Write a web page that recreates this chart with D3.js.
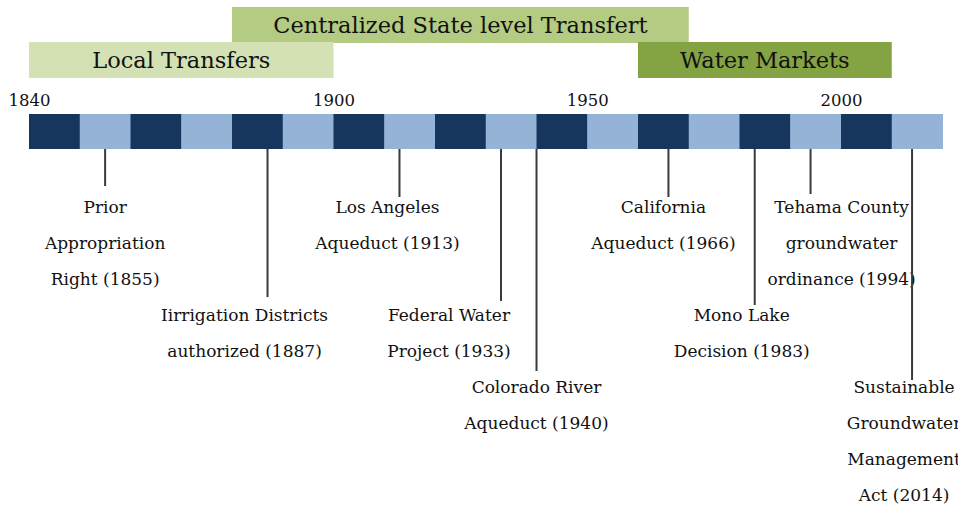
<!DOCTYPE html>
<html><head><meta charset="utf-8">
<script src="https://cdn.jsdelivr.net/npm/d3@7"></script>
<style>html,body{margin:0;padding:0;background:#fff;}svg{display:block;}</style>
</head><body>
<script>
// Data
const decades = [1840,1850,1860,1870,1880,1890,1900,1910,1920,1930,1940,1950,1960,1970,1980,1990,2000,2010];
const tickYears = [1840, 1900, 1950, 2000];
const eras = ["Centralized State level Transfert", "Local Transfers", "Water Markets"];
const eraStart = [1880, 1840, 1960];
const eraEnd = [1970, 1900, 2010];
const eraRow = [0, 1, 1];
const eraColor = ["#b3cb82", "#d3e1b5", "#84a343"];
const eventYears = [1855, 1887, 1913, 1933, 1940, 1966, 1983, 1994, 2014];
const eventLabels = [
  ["Prior", "Appropriation", "Right (1855)"],
  ["Iirrigation Districts", "authorized (1887)"],
  ["Los Angeles", "Aqueduct (1913)"],
  ["Federal Water", "Project (1933)"],
  ["Colorado River", "Aqueduct (1940)"],
  ["California", "Aqueduct (1966)"],
  ["Mono Lake", "Decision (1983)"],
  ["Tehama County", "groundwater", "ordinance (1994)"],
  ["Sustainable", "Groundwater", "Management", "Act (2014)"]
];
const eventLevel = [0, 3, 0, 3, 5, 0, 3, 0, 5]; // row index of first label line
const labelShift = [0, -23, -12, -52, 0, -5, -13, 31, -8];
const lineEndLevel = [186, 297, 197, 301, 371, 197, 305, 194, 380];

const W = 962, H = 505;
const svg = d3.select("body").append("svg").attr("width", W).attr("height", H);
const defs = svg.append("defs");
defs.append("clipPath").attr("id","clip").append("rect").attr("x",0).attr("y",0).attr("width",958).attr("height",H);
const g = svg.append("g").attr("clip-path","url(#clip)");

const x = d3.scaleLinear().domain([1840, 2020]).range([29, 942.5]);
const barTop = 114, barBottom = 149;
const serif = "'DejaVu Serif', serif";

// era bands
const rowY = [7, 42], rowH = 36;
eras.forEach((name, i) => {
  g.append("rect").attr("x", x(eraStart[i])).attr("y", rowY[eraRow[i]])
    .attr("width", x(eraEnd[i]) - x(eraStart[i])).attr("height", rowH).attr("fill", eraColor[i]);
  g.append("text").attr("x", (x(eraStart[i]) + x(eraEnd[i])) / 2).attr("y", rowY[eraRow[i]] + 26)
    .attr("text-anchor", "middle").attr("font-family", serif).attr("font-size", 22.5)
    .attr("fill", "#111").text(name);
});

// year tick labels via axis
const axis = d3.axisTop(x).tickValues(tickYears).tickFormat(d3.format("d")).tickSize(0).tickPadding(0);
const ax = g.append("g").attr("transform", `translate(0,${barTop - 8})`).call(axis);
ax.select(".domain").remove();
ax.selectAll("text").attr("font-family", serif).attr("font-size", 16.5).attr("fill", "#111").attr("dy", 0);

// decade segments
g.selectAll("rect.seg").data(decades).enter().append("rect").attr("class", "seg")
  .attr("x", d => x(d)).attr("y", barTop)
  .attr("width", d => x(d + 10) - x(d) + 0.5).attr("height", barBottom - barTop)
  .attr("fill", (d, i) => i % 2 === 0 ? "#17365d" : "#95b3d7");

// event lines and labels
const rowBase = 213, rowStep = 36;
eventYears.forEach((yr, i) => {
  g.append("line").attr("x1", x(yr)).attr("x2", x(yr)).attr("y1", barBottom).attr("y2", lineEndLevel[i])
    .attr("stroke", "#3a3a3a").attr("stroke-width", 2);
  const cx = x(yr) + labelShift[i];
  eventLabels[i].forEach((ln, j) => {
    g.append("text").attr("x", cx).attr("y", rowBase + (eventLevel[i] + j) * rowStep)
      .attr("text-anchor", "middle").attr("font-family", serif).attr("font-size", 17)
      .attr("fill", "#111").text(ln);
  });
});
</script>
</body></html>
